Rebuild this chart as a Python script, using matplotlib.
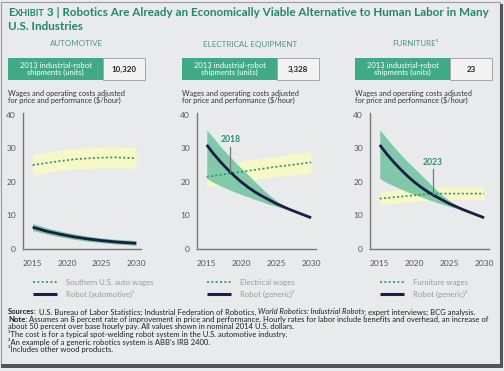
import matplotlib.pyplot as plt
from matplotlib.patches import Rectangle

plt.rcParams['font.family'] = ['Lato', 'DejaVu Sans']

W, H = 504, 371

# ---------------- data ----------------
panel_titles = ["AUTOMOTIVE", "ELECTRICAL EQUIPMENT", "FURNITURE\u00b3"]
shipments = ["10,320", "3,328", "23"]
wage_labels = ["Southern U.S. auto wages", "Electrical wages", "Furniture wages"]
robot_labels = ["Robot (automotive)\u00b9", "Robot (generic)\u00b2", "Robot (generic)\u00b2"]

years = [2015, 2017, 2019, 2021, 2023, 2025, 2027, 2030]

auto_wage = [25.0, 25.6, 26.2, 26.7, 27.0, 27.2, 27.3, 27.0]
auto_wage_lo = [22.0, 22.8, 23.4, 23.8, 24.0, 24.1, 24.1, 24.0]
auto_wage_hi = [28.0, 28.8, 29.4, 29.9, 30.2, 30.4, 30.4, 30.2]
auto_robot = [6.5, 5.3, 4.4, 3.6, 3.0, 2.5, 2.1, 1.7]
auto_robot_lo = [5.5, 4.5, 3.6, 2.9, 2.3, 1.9, 1.5, 1.1]
auto_robot_hi = [7.6, 6.3, 5.3, 4.5, 3.8, 3.3, 2.9, 2.5]

elec_wage = [21.5, 22.1, 22.7, 23.3, 23.9, 24.5, 25.0, 25.8]
elec_wage_lo = [18.6, 19.3, 19.8, 20.4, 21.0, 21.5, 21.9, 22.5]
elec_wage_hi = [24.6, 25.2, 25.7, 26.4, 27.0, 27.6, 28.2, 29.0]

furn_wage = [15.0, 15.4, 15.8, 16.2, 16.5, 16.5, 16.5, 16.5]
furn_wage_lo = [13.3, 13.6, 14.0, 14.4, 14.6, 14.7, 14.7, 14.7]
furn_wage_hi = [17.0, 17.4, 17.8, 18.2, 18.4, 18.5, 18.5, 18.5]

gen_years = [2015, 2016, 2017, 2018, 2019, 2020, 2021, 2022, 2023,
             2024, 2025, 2026, 2027, 2028, 2029, 2030]
gen_robot = [31.0, 28.3, 25.9, 23.7, 21.7, 19.9, 18.3, 16.9, 15.7,
             14.6, 13.5, 12.6, 11.7, 10.9, 10.1, 9.3]
band_years = [2015, 2016, 2017, 2018, 2019, 2020, 2021, 2022, 2023,
              2024, 2025, 2026, 2027]
gen_hi = [35.5, 33.0, 30.5, 28.2, 26.0, 24.0, 22.0, 19.9, 17.9,
          16.0, 14.4, 13.0, 11.8]
gen_lo = [21.0, 19.8, 18.8, 17.9, 17.0, 16.2, 15.5, 14.7, 14.0,
          13.3, 12.7, 12.1, 11.6]

cross_years = [None, 2018.4, 2022.6]
cross_vals = [None, 23.0, 16.3]
cross_text = [None, "2018", "2023"]

# ---------------- style ----------------
bg = "#e9eaec"
green = "#3fab86"
title_green = "#1f8a63"
navy = "#1b1d45"
band_green = "#74c6a3"
band_yellow = "#f6f8c6"
wage_green = "#2a9070"


def fx(px):
    return px / W


def fy(py):
    return 1 - py / H


fig = plt.figure(figsize=(W / 100, H / 100), dpi=100)
fig.patch.set_facecolor(bg)
renderer = fig.canvas.get_renderer()


def text_runs(x, y, runs, **kw):
    # place text pieces one after another on the same line
    for s, style in runs:
        t = fig.text(fx(x), fy(y), s, ha="left", va="center", **style, **kw)
        x += t.get_window_extent(renderer).width


# frame / shadow
fig.add_artist(Rectangle((fx(1), fy(364)), fx(500) - fx(1), fy(2) - fy(364),
                         transform=fig.transFigure, fill=False,
                         edgecolor="#9a9a9a", linewidth=0.8))
fig.add_artist(Rectangle((fx(1), fy(368)), fx(502) - fx(1), fy(364) - fy(368),
                         transform=fig.transFigure, color="#555555", linewidth=0))
fig.add_artist(Rectangle((fx(500), fy(368)), fx(503) - fx(500), fy(4) - fy(368),
                         transform=fig.transFigure, color="#555555", linewidth=0))

# title
text_runs(8, 13, [("E", {"fontsize": 8.4}), ("XHIBIT", {"fontsize": 6.6}),
                  (" 3 | Robotics Are Already an Economically Viable Alternative to Human Labor in Many",
                   {"fontsize": 8.4})],
          color=title_green, fontweight="bold")
fig.text(fx(8), fy(26), "U.S. Industries",
         color=title_green, fontsize=8.4, fontweight="bold", va="center", ha="left")

axis_left = [23, 197, 370]
axis_right = [141, 316, 489]
box_left = [8, 182, 355]
title_x = [77, 250, 415]

for i in range(3):
    # panel title
    fig.text(fx(title_x[i]), fy(44), panel_titles[i], color="#4a9a82",
             fontsize=5.8, ha="center", va="center")
    # shipments box
    bl = box_left[i]
    fig.add_artist(Rectangle((fx(bl), fy(80)), fx(95), fy(58) - fy(80),
                             transform=fig.transFigure, color=green, linewidth=0))
    fig.add_artist(Rectangle((fx(bl + 95), fy(80)), fx(42), fy(58) - fy(80),
                             transform=fig.transFigure, facecolor="#f2f2f2",
                             edgecolor="#9a9a9a", linewidth=0.6))
    fig.text(fx(bl + 47.5), fy(69), "2013 industrial-robot\nshipments (units)",
             color="white", fontsize=5.5, ha="center", va="center", linespacing=1.0)
    fig.text(fx(bl + 116), fy(69), shipments[i], color="#222222",
             fontsize=5.7, fontweight="bold", ha="center", va="center")
    fig.text(fx(bl), fy(97), "Wages and operating costs adjusted\nfor price and performance ($/hour)",
             color="#333333", fontsize=5.3, ha="left", va="center", linespacing=0.95)

    # chart axes
    al, ar = axis_left[i], axis_right[i]
    ax = fig.add_axes([fx(al), fy(249), fx(ar - al), fy(113) - fy(249)])
    ax.set_facecolor("none")
    ax.set_xlim(2013.6, 2030.7)
    ax.set_ylim(0, 40.5)
    for s in ["top", "right"]:
        ax.spines[s].set_visible(False)
    for s in ["left", "bottom"]:
        ax.spines[s].set_color("#777777")
        ax.spines[s].set_linewidth(1.0)
    ax.set_xticks([2015, 2020, 2025, 2030])
    ax.set_yticks([0, 10, 20, 30, 40])
    ax.tick_params(length=0, labelsize=6.0, colors="#555555", pad=5)
    ax.tick_params(axis="x", pad=8)

    if i == 0:
        ax.fill_between(years, auto_wage_lo, auto_wage_hi, color=band_yellow, lw=0, zorder=1)
        ax.plot(years, auto_wage, color=wage_green, lw=1.2, ls=(0, (1.2, 1.4)), zorder=3)
        ax.fill_between(years, auto_robot_lo, auto_robot_hi, color=band_green, lw=0, zorder=2)
        ax.plot(years, auto_robot, color=navy, lw=2.0, zorder=4, solid_capstyle="butt")
    else:
        wage, lo, hi = (elec_wage, elec_wage_lo, elec_wage_hi) if i == 1 else \
            (furn_wage, furn_wage_lo, furn_wage_hi)
        ax.fill_between(years, lo, hi, color=band_yellow, lw=0, zorder=1)
        ax.fill_between(band_years, gen_lo, gen_hi, color=band_green, alpha=0.9, lw=0, zorder=2)
        ax.plot(years, wage, color=wage_green, lw=1.2, ls=(0, (1.2, 1.4)), zorder=3)
        ax.plot(gen_years, gen_robot, color=navy, lw=2.0, zorder=4, solid_capstyle="butt")
        cx, cv = cross_years[i], cross_vals[i]
        ax.plot([cx, cx], [cv, cv + 7.4], color="#777777", lw=0.9, zorder=5)
        ax.text(cx, cv + 9.6, cross_text[i], color=wage_green, fontsize=6.2,
                fontweight="bold", ha="center", va="center", zorder=6)

    # legend
    lx = al + 10
    fig.add_artist(plt.Line2D([fx(lx), fx(lx + 24)], [fy(282), fy(282)], color=wage_green,
                              lw=1.2, ls=(0, (1.2, 1.4)), transform=fig.transFigure))
    fig.text(fx(lx + 33), fy(282), wage_labels[i], color="#999999", fontsize=5.6,
             ha="left", va="center")
    fig.add_artist(plt.Line2D([fx(lx), fx(lx + 24)], [fy(294), fy(294)], color=navy,
                              lw=2.2, transform=fig.transFigure, solid_capstyle="butt"))
    fig.text(fx(lx + 33), fy(294), robot_labels[i], color="#999999", fontsize=5.6,
             ha="left", va="center")

# footnotes
fn = {"fontsize": 5.5, "color": "#222222"}
text_runs(8, 312, [("Sources:", {"fontweight": "bold"}),
                   (" U.S. Bureau of Labor Statistics; Industrial Federation of Robotics, ", {}),
                   ("World Robotics: Industrial Robots", {"fontstyle": "italic"}),
                   ("; expert interviews; BCG analysis.", {})], **fn)
text_runs(8, 319.5, [("Note:", {"fontweight": "bold"}),
                     (" Assumes an 8 percent rate of improvement in price and performance. "
                      "Hourly rates for labor include benefits and overhead, an increase of", {})], **fn)
notes = ["about 50 percent over base hourly pay. All values shown in nominal 2014 U.S. dollars.",
         "\u00b9The cost is for a typical spot-welding robot system in the U.S. automotive industry.",
         "\u00b2An example of a generic robotics system is ABB\u2019s IRB 2400.",
         "\u00b3Includes other wood products."]
for k, n in enumerate(notes):
    fig.text(fx(8), fy(327 + 7.4 * k), n, ha="left", va="center", **fn)

fig.savefig("out.png", dpi=100, facecolor=bg)
